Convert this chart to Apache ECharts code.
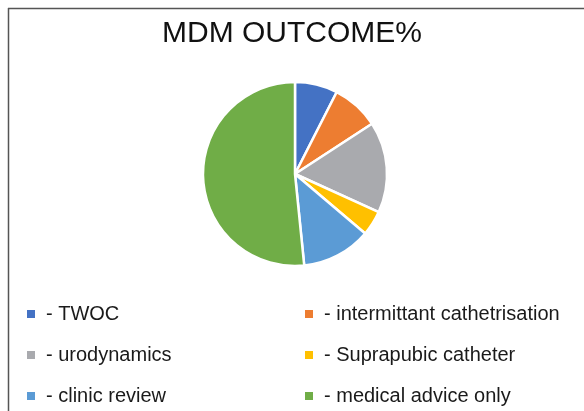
<!DOCTYPE html>
<html lang="en">
<head>
    <meta charset="UTF-8">
    <title>MDM OUTCOME%</title>
    <script src="https://cdn.jsdelivr.net/npm/echarts@6/dist/echarts.min.js"></script>
    <style>
        html, body { margin: 0; padding: 0; background: #fff; }
        #chart { width: 584px; height: 411px; }
    </style>
</head>
<body>
    <div id="chart"></div>
    <script>
        var categories = ['TWOC', 'intermittant cathetrisation', 'urodynamics', 'Suprapubic catheter', 'clinic review', 'medical advice only'];
        var values = [7.5, 8.3, 16, 4.4, 12.2, 51.6];
        var colors = ['#4472C4', '#ED7D31', '#A9AAAE', '#FFC000', '#5B9BD5', '#70AD47'];

        var pieData = [];
        for (var i = 0; i < categories.length; i++) {
            pieData.push({ name: categories[i], value: values[i], itemStyle: { color: colors[i] } });
        }

        // legend in two columns: left gets items 0,2,4 and right gets 1,3,5
        var leftNames = [categories[0], categories[2], categories[4]];
        var rightNames = [categories[1], categories[3], categories[5]];

        function legendCol (names, left) {
            return {
                data: names,
                orient: 'vertical',
                left: left,
                top: 304,
                height: 107,
                padding: 0,
                itemWidth: 8,
                itemHeight: 8,
                itemGap: 21,
                icon: 'rect',
                itemStyle: { borderWidth: 0 },
                selectedMode: false,
                formatter: function (n) { return '- ' + n; },
                textStyle: {
                    fontFamily: 'Liberation Sans',
                    fontSize: 20,
                    lineHeight: 20,
                    color: '#1a1a1a',
                    padding: [0, 0, 0, 6]
                }
            };
        }

        var chart = echarts.init(document.getElementById('chart'));
        chart.setOption({
            animation: false,
            title: {
                text: 'MDM OUTCOME%',
                left: 'center',
                top: 14,
                textStyle: {
                    fontFamily: 'Liberation Sans',
                    fontSize: 30,
                    fontWeight: 'normal',
                    color: '#111'
                }
            },
            legend: [legendCol(leftNames, 27), legendCol(rightNames, 305)],
            graphic: [
                { type: 'line', shape: { x1: 8, y1: 8.5, x2: 584, y2: 8.5 }, style: { stroke: '#555', lineWidth: 1.5 } },
                { type: 'line', shape: { x1: 8.5, y1: 8, x2: 8.5, y2: 411 }, style: { stroke: '#555', lineWidth: 1.5 } }
            ],
            series: [{
                type: 'pie',
                center: [295, 174],
                radius: 92,
                startAngle: 90,
                clockwise: true,
                label: { show: false },
                labelLine: { show: false },
                itemStyle: { borderColor: '#fff', borderWidth: 2.5 },
                emphasis: { disabled: true },
                data: pieData
            }]
        });
    </script>
</body>
</html>
